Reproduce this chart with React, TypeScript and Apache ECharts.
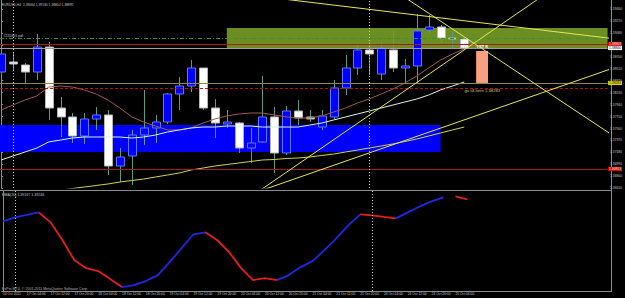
import React, { useEffect, useRef } from "react";
import * as echarts from "echarts";

// ---- time axis labels (one every 2 H4 bars, starting at bar 0)
const timeLabels = [
  "14 Oct 2011", "17 Oct 04:00", "17 Oct 12:00", "17 Oct 20:00", "18 Oct 04:00",
  "18 Oct 12:00", "18 Oct 20:00", "19 Oct 04:00", "19 Oct 12:00", "19 Oct 20:00",
  "20 Oct 04:00", "20 Oct 12:00", "20 Oct 20:00", "21 Oct 04:00", "21 Oct 12:00",
  "21 Oct 20:00", "24 Oct 04:00", "24 Oct 12:00", "24 Oct 20:00", "25 Oct 04:00",
];

// ---- EURUSD H4 candles
const opens = [1.38457,1.38617,1.38569,1.38457,1.38855,1.37884,1.37741,1.37438,1.37709,1.37773,
  1.36960,1.37120,1.37454,1.37566,1.37661,1.38107,1.38234,1.38521,1.37884,1.37629,
  1.37645,1.37247,1.37343,1.37741,1.37167,1.37836,1.37741,1.37581,1.37741,1.38203,
  1.38521,1.38808,1.38425,1.38808,1.38521,1.38553,1.39126,1.39174,1.38999,1.38983];
const closes = [1.38744,1.38585,1.38457,1.38855,1.37884,1.37741,1.37438,1.37709,1.37773,1.36960,
  1.37104,1.37454,1.37566,1.37661,1.38107,1.38234,1.38521,1.37884,1.37645,1.37661,
  1.37247,1.37327,1.37741,1.37167,1.37836,1.37725,1.37709,1.37757,1.38203,1.38521,
  1.38808,1.38744,1.38839,1.38521,1.38553,1.39110,1.39174,1.38999,1.38983,1.38839];
const lows = [1.38410,1.38489,1.38282,1.38330,1.37693,1.37422,1.37327,1.37311,1.37534,1.36817,
  1.36706,1.36658,1.37295,1.37327,1.37629,1.37852,1.38139,1.37852,1.37406,1.37566,
  1.37167,1.37008,1.37327,1.36849,1.37136,1.37613,1.37661,1.37534,1.37693,1.38091,
  1.38410,1.38410,1.38330,1.38457,1.38282,1.38266,1.39078,1.38919,1.38839,1.38808];
const highs = [1.38808,1.38776,1.38601,1.39063,1.38935,1.38059,1.37804,1.37804,1.37900,1.37852,
  1.37247,1.37534,1.38171,1.37773,1.38123,1.38378,1.38648,1.38521,1.38027,1.37852,
  1.37661,1.37566,1.38394,1.37900,1.37916,1.38011,1.37852,1.37852,1.38330,1.38728,
  1.38887,1.38967,1.38935,1.39126,1.38664,1.39381,1.39365,1.39206,1.39110,1.38999];

// ---- moving averages
const maBrown = [1.37852,1.37932,1.38011,1.38075,1.38218,1.38234,1.38218,1.38171,1.38107,1.38011,
  1.37884,1.37741,1.37661,1.37597,1.37534,1.37534,1.37566,1.37645,1.37709,1.37757,
  1.37788,1.37804,1.37804,1.37773,1.37741,1.37725,1.37725,1.37757,1.37820,1.37884,
  1.37964,1.38027,1.38107,1.38187,1.38282,1.38394,1.38521,1.38648,1.38744,1.38824];
const maWhite = [1.37056,1.37120,1.37183,1.37247,1.37343,1.37374,1.37406,1.37422,1.37422,1.37422,
  1.37422,1.37406,1.37422,1.37454,1.37502,1.37534,1.37566,1.37581,1.37581,1.37597,
  1.37597,1.37597,1.37581,1.37581,1.37581,1.37581,1.37613,1.37645,1.37693,1.37741,
  1.37788,1.37836,1.37884,1.37932,1.37980,1.38027,1.38091,1.38171,1.38234,1.38298];
const maYellow = [1.36467,1.36491,1.36514,1.36538,1.36562,1.36578,1.36602,1.36626,1.36650,1.36674,
  1.36706,1.36729,1.36753,1.36785,1.36817,1.36849,1.36897,1.36928,1.36960,1.36984,
  1.37008,1.37032,1.37056,1.37064,1.37080,1.37088,1.37104,1.37128,1.37151,1.37183,
  1.37215,1.37247,1.37279,1.37311,1.37351,1.37390,1.37438,1.37486,1.37534,1.37581];

// ---- HMA indicator values and segment colours (b = rising, r = falling, - = gap)
const hmaValues = [1.38496,1.38601,1.38667,1.38733,1.38469,1.37995,1.37467,1.37256,1.37177,1.36966,
  1.36755,1.36808,1.36914,1.37072,1.37415,1.37784,1.38153,1.38206,1.37995,1.37678,
  1.37256,1.36940,1.36993,1.36940,1.37072,1.37283,1.37441,1.37731,1.38047,1.38390,
  1.38680,1.38654,1.38614,1.38575,1.38733,1.38891,1.39023,1.39129,1.39155,1.39076];
const hmaSegments = "bbb" + "rrrrrrr" + "bbbbbbb" + "rrrrrr" + "bbbbbbb" + "rrr" + "bbbb" + "-" + "r";
const hmaScaleLabels = [1.39246, 1.36703];

// ---- chart objects
const trendLines = [
  [[33, 1.39770], [52, 1.37386]],
  [[21, 1.36468], [47, 1.39851]],
  [[24, 1.39614], [52, 1.38978]],
  [[22, 1.36577], [52, 1.38550]],
];
const greenRect = { from: 19, top: 1.39158, bottom: 1.38840 };
const blueRect = { to: 37, top: 1.37613, bottom: 1.37183 };
const targetRect = { from: 40, to: 41, top: 1.38792, bottom: 1.38283 };
const targetText = "137.8";
const pdlLevel = 1.38999;
const askPrice = 1.38903;
const bidPrice = 1.38840;
const targetLevel = 1.38283;
const dashedLevel = 1.38203;
const lowLevel = 1.36913;
const vLines = [1, 31];
const goTillBar = 39;
const goTillPrice = 1.38155;

const FONT = "Liberation Sans";
const TXT = "#c8c8c8";
const X_MIN = -0.1;
const X_MAX = 51.07;
const GR = 14;
const labelBars = timeLabels.map((_, k) => k * 2);

const boxLabel = (bg: string, fg: string) => ({
  show: true,
  position: "end",
  distance: 0.5,
  formatter: (p: any) => Number(p.value).toFixed(5),
  backgroundColor: bg,
  color: fg,
  fontSize: 3.3,
  fontFamily: FONT,
  padding: [0.6, 1],
});

const App = () => {
  const ref = useRef<HTMLDivElement>(null);
  useEffect(() => {
    document.body.style.margin = "0";
    document.body.style.background = "#000";
    const chart = echarts.init(ref.current!, null, { renderer: "svg" });

    const candleData = opens.map((o, i) => [i, o, closes[i], lows[i], highs[i]]);
    const toXY = (arr: number[]) => arr.map((v, i) => [i, v]);
    const hmaColored = (c: string) =>
      hmaValues.map((v, i) => {
        const prev = i > 0 ? hmaSegments[i - 1] : "";
        const next = hmaSegments[i] || "";
        return [i, prev === c || next === c ? v : null];
      });

    const option: any = {
      animation: false,
      backgroundColor: "#000000",
      grid: [
        { left: 0, right: GR, top: 0, height: 188 },
        { left: 0, right: GR, top: 191, height: 100 },
      ],
      xAxis: [
        { type: "value", gridIndex: 0, min: X_MIN, max: X_MAX, show: false, splitLine: { show: false } },
        {
          type: "value", gridIndex: 1, min: X_MIN, max: X_MAX,
          splitLine: { show: false },
          axisLine: { show: true, lineStyle: { color: "#8c8c8c" } },
          axisTick: { show: false },
          axisLabel: {
            show: true, fontSize: 3.3, color: TXT, fontFamily: FONT, align: "left", margin: 1.5,
            customValues: labelBars,
            formatter: (v: number) => {
              const k = Math.round(v / 2);
              return v >= 0 && timeLabels[k] ? timeLabels[k] : "";
            },
          },
        },
      ],
      yAxis: [
        {
          type: "value", gridIndex: 0, position: "right", min: 1.3661, max: 1.39604, interval: 0.0019,
          splitLine: { show: false },
          axisLine: { show: true, lineStyle: { color: "#8c8c8c" } },
          axisTick: { show: true, length: 2, lineStyle: { color: "#8c8c8c" } },
          axisLabel: {
            fontSize: 3.3, color: TXT, fontFamily: FONT, margin: 2.5, showMaxLabel: false,
            formatter: (v: number) => v.toFixed(5),
          },
        },
        {
          type: "value", gridIndex: 1, position: "right", min: 1.3665, max: 1.393,
          splitLine: { show: false },
          axisLine: { show: true, lineStyle: { color: "#8c8c8c" } },
          axisTick: { show: false },
          axisLabel: { show: false },
        },
      ],
      series: [
        {
          name: "areas", type: "line", xAxisIndex: 0, yAxisIndex: 0, data: [], z: 1, silent: true,
          markArea: {
            silent: true,
            precision: 5,
            data: [
              [
                { xAxis: X_MIN, yAxis: blueRect.top, itemStyle: { color: "#0000ff" } },
                { xAxis: blueRect.to, yAxis: blueRect.bottom },
              ],
              [
                { xAxis: greenRect.from, yAxis: greenRect.top, itemStyle: { color: "#6b8e23" } },
                { xAxis: X_MAX, yAxis: greenRect.bottom },
              ],
              [
                {
                  coord: [targetRect.from, targetRect.top], itemStyle: { color: "#f9a080" },
                  label: { show: true, position: "top", distance: 0.5, formatter: targetText, color: "#ffffff", fontSize: 4.6, fontWeight: "bold", fontFamily: FONT },
                },
                { coord: [targetRect.to, targetRect.bottom] },
              ],
            ],
          },
        },
        {
          name: "candles", type: "custom", xAxisIndex: 0, yAxisIndex: 0, z: 2, clip: true,
          data: candleData,
          encode: { x: 0, y: [1, 2, 3, 4] },
          renderItem: (params: any, api: any) => {
            const i = api.value(0);
            const o = api.value(1), c = api.value(2), l = api.value(3), h = api.value(4);
            const pO = api.coord([i, o]);
            const pC = api.coord([i, c]);
            const pL = api.coord([i, l]);
            const pH = api.coord([i, h]);
            const x = Math.round(pO[0]) + 0.5;
            const bull = c >= o;
            const top = Math.min(pO[1], pC[1]);
            const bot = Math.max(pO[1], pC[1]);
            return {
              type: "group",
              children: [
                { type: "line", shape: { x1: x, y1: pH[1], x2: x, y2: pL[1] }, style: { stroke: "#5a9a86", lineWidth: 1 } },
                {
                  type: "rect",
                  shape: { x: x - 4, y: top, width: 8, height: Math.max(1, bot - top) },
                  style: { fill: bull ? "#0000ff" : "#ffffff", stroke: bull ? "#5a78ff" : "#b4b4b4", lineWidth: 1 },
                },
              ],
            };
          },
        },
        { name: "MA brown", type: "line", xAxisIndex: 0, yAxisIndex: 0, z: 3, symbol: "none", data: toXY(maBrown), lineStyle: { color: "#a05a50", width: 1 } },
        { name: "MA white", type: "line", xAxisIndex: 0, yAxisIndex: 0, z: 3, symbol: "none", data: toXY(maWhite), lineStyle: { color: "#d8f4ec", width: 1 } },
        { name: "MA yellow", type: "line", xAxisIndex: 0, yAxisIndex: 0, z: 3, symbol: "none", data: toXY(maYellow), lineStyle: { color: "#d2d250", width: 1 } },
        {
          name: "levels", type: "line", xAxisIndex: 0, yAxisIndex: 0, data: [], z: 4, silent: true,
          markLine: {
            silent: true, symbol: ["none", "none"], label: { show: false }, precision: 5,
            data: [
              { yAxis: pdlLevel, lineStyle: { color: "#3c8c3c", type: [4, 2, 1, 2], width: 1 } },
              { yAxis: askPrice, lineStyle: { color: "#b41414", type: "solid", width: 1 }, label: boxLabel("#dc0000", "#ffffff") },
              { yAxis: bidPrice, lineStyle: { color: "#a0a0a0", type: "solid", width: 1 }, label: boxLabel("#ffffff", "#000000") },
              { yAxis: targetLevel, lineStyle: { color: "#8c8c3c", type: "solid", width: 1 }, label: boxLabel("#dcdc00", "#000000") },
              { yAxis: dashedLevel, lineStyle: { color: "#b41414", type: [3, 2], width: 1 } },
              { yAxis: lowLevel, lineStyle: { color: "#a01e1e", type: "solid", width: 1 }, label: boxLabel("#dc0000", "#ffffff") },
              ...vLines.map((v) => ({ xAxis: v, lineStyle: { color: "#c8c8c8", type: [1, 2], width: 1 } })),
            ],
          },
          markPoint: {
            silent: true,
            data: [
              {
                coord: [goTillBar, goTillPrice], symbol: "rect", symbolSize: 0.5, itemStyle: { color: "rgba(0,0,0,0)" },
                label: { show: true, position: "right", distance: 0, formatter: "go till here 1.38283", color: "#c8c878", fontSize: 4.2, fontFamily: FONT },
              },
              {
                coord: [0.15, 1.39031], symbol: "rect", symbolSize: 0.5, itemStyle: { color: "rgba(0,0,0,0)" },
                label: { show: true, position: "right", distance: 0, formatter: "#220301 pdl", color: TXT, fontSize: 3.6, fontFamily: FONT },
              },
            ],
          },
        },
        ...trendLines.map((t, k) => ({
          name: "trend" + k, type: "line", xAxisIndex: 0, yAxisIndex: 0, z: 5, symbol: "none", data: t,
          lineStyle: { color: "#e6e650", width: 1 },
        })),
        {
          name: "HMA up", type: "line", xAxisIndex: 1, yAxisIndex: 1, z: 3, symbol: "none", connectNulls: false,
          data: hmaColored("b"), lineStyle: { color: "#1e28e6", width: 1.8 },
        },
        {
          name: "HMA down", type: "line", xAxisIndex: 1, yAxisIndex: 1, z: 3, symbol: "none", connectNulls: false,
          data: hmaColored("r"), lineStyle: { color: "#e61e1e", width: 1.8 },
        },
        {
          name: "hma helper", type: "line", xAxisIndex: 1, yAxisIndex: 1, data: [], z: 2, silent: true,
          markLine: {
            silent: true, symbol: ["none", "none"], label: { show: false }, precision: 5,
            data: [
              ...vLines.map((v) => ({ xAxis: v, lineStyle: { color: "#c8c8c8", type: [1, 2], width: 1 } })),
              ...hmaScaleLabels.map((v) => ({
                yAxis: v, lineStyle: { opacity: 0 },
                label: { show: true, position: "end", distance: 2.5, formatter: (p: any) => Number(p.value).toFixed(5), color: TXT, fontSize: 3.3, fontFamily: FONT },
              })),
            ],
          },
        },
      ],
      graphic: [
        { type: "line", shape: { x1: 0, y1: 190.5, x2: 611, y2: 190.5 }, style: { stroke: "#8c8c8c", lineWidth: 1 }, silent: true },
        { type: "line", shape: { x1: 611.5, y1: 0, x2: 611.5, y2: 292 }, style: { stroke: "#8c8c8c", lineWidth: 1 }, silent: true },
        { type: "text", x: 2, y: 4.5, silent: true, style: { text: "EURUSD,H4  1.39064 1.39130 1.38854 1.38895", fill: TXT, fontSize: 3.3, fontFamily: FONT, verticalAlign: "middle" } },
        { type: "text", x: 2, y: 194.5, silent: true, style: { text: "HMA(20) 1.39167 1.39246", fill: TXT, fontSize: 3.6, fontFamily: FONT, verticalAlign: "middle" } },
        { type: "text", x: 2, y: 288.5, silent: true, style: { text: "FxPro MT4, © 2001-2011 MetaQuotes Software Corp.", fill: "#b4b4b4", fontSize: 3.6, fontFamily: FONT, verticalAlign: "middle" } },
      ],
    };
    chart.setOption(option);
    return () => chart.dispose();
  }, []);
  return <div ref={ref} style={{ width: 625, height: 298 }} />;
};

export default App;
